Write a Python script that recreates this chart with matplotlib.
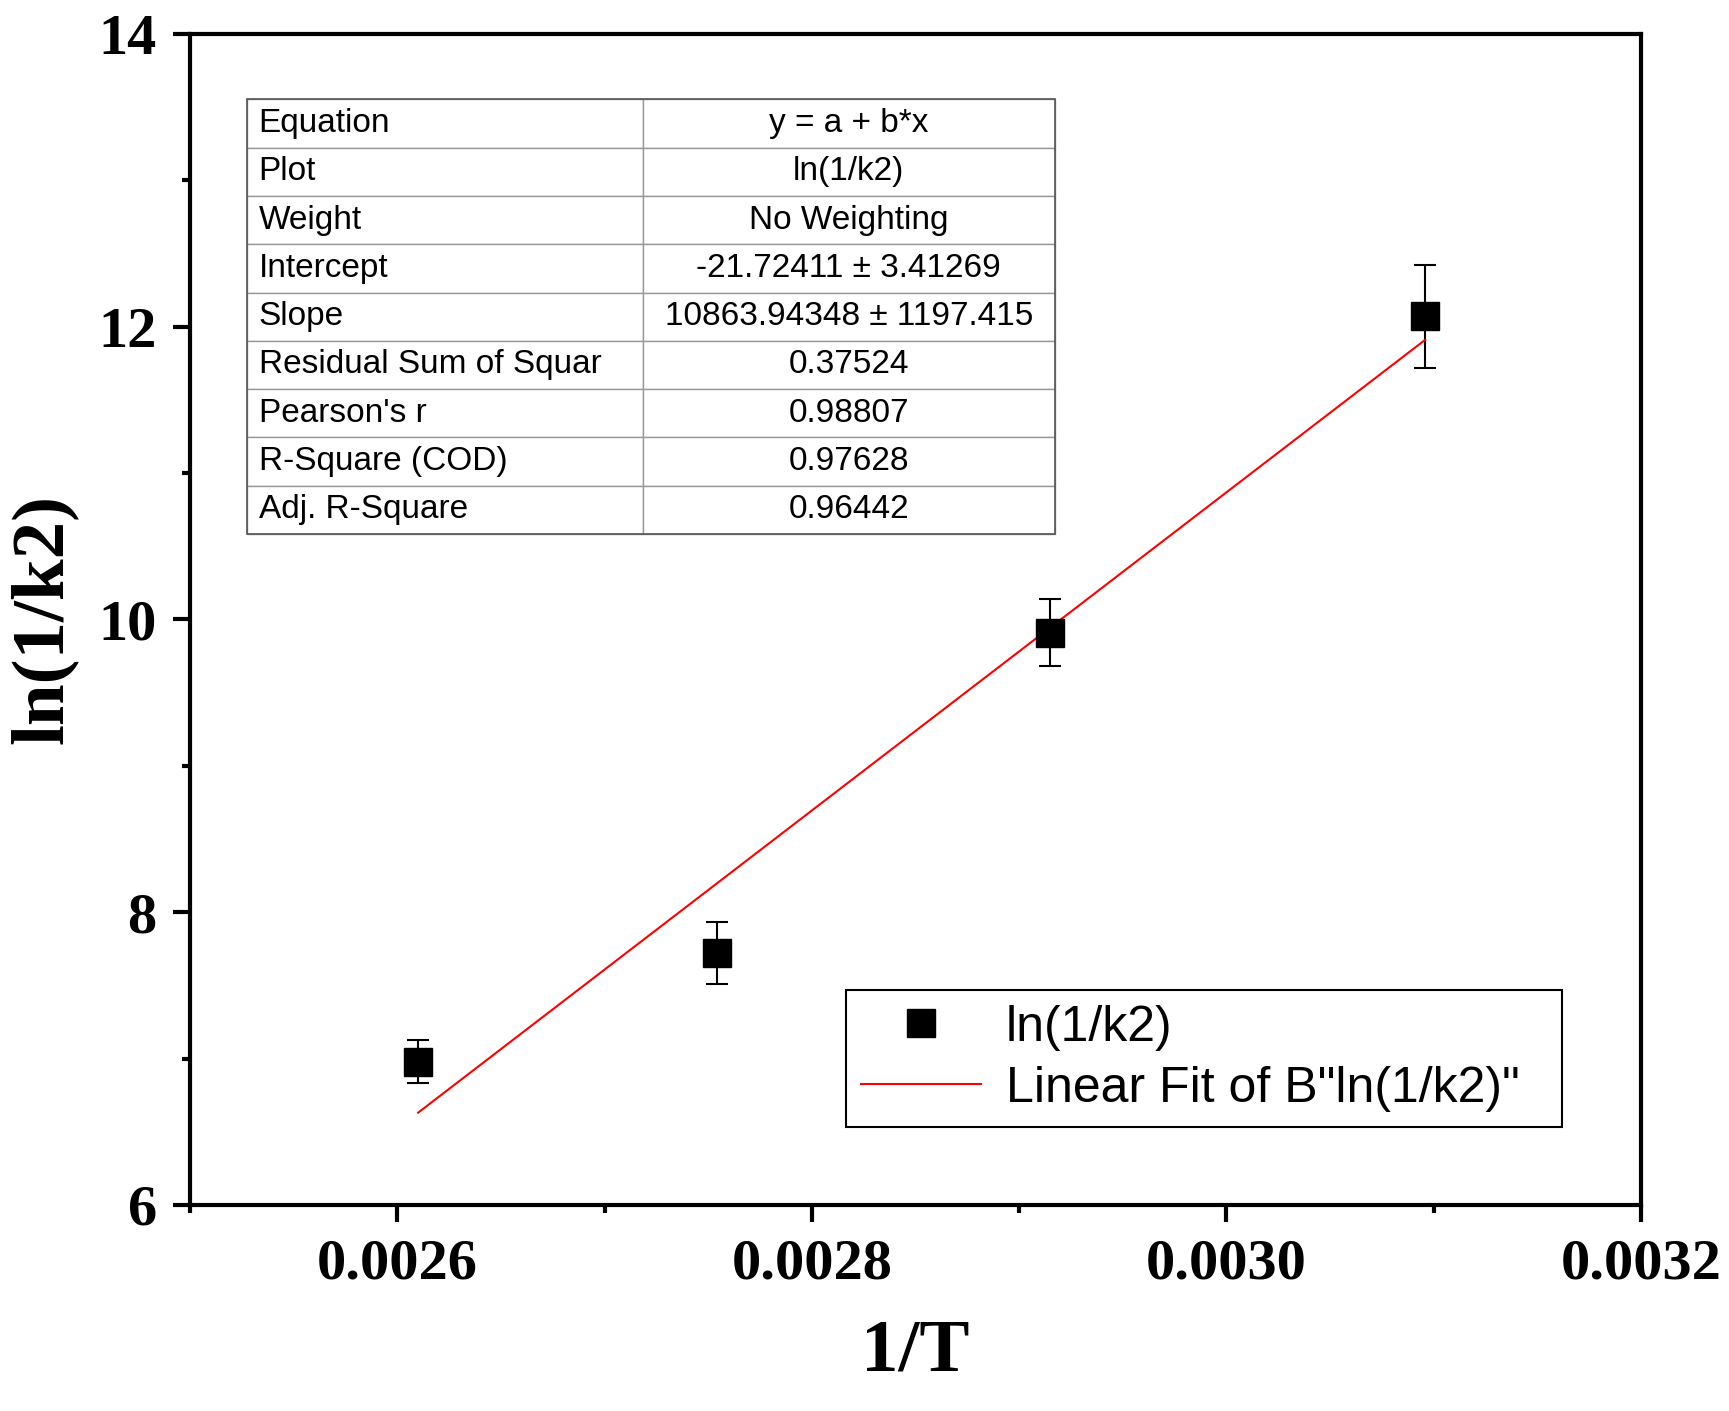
import matplotlib
matplotlib.use("Agg")
import matplotlib.pyplot as plt
from matplotlib.lines import Line2D
import numpy as np

x = [0.00261, 0.002754, 0.002915, 0.003096]
y = [6.98, 7.72, 9.91, 12.07]
yerr = [0.15, 0.21, 0.23, 0.35]
a, b = -21.72411, 10863.94348
labels = ["Equation", "Plot", "Weight", "Intercept", "Slope", "Residual Sum of Squar",
          "Pearson's r", "R-Square (COD)", "Adj. R-Square"]
values = ["y = a + b*x", "ln(1/k2)", "No Weighting", "-21.72411 ± 3.41269",
          "10863.94348 ± 1197.415", "0.37524", "0.98807", "0.97628", "0.96442"]

fig = plt.figure(figsize=(17.29, 14.11), dpi=100)
ax = fig.add_axes([0.110, 0.146, 0.839, 0.830])
ax.errorbar(x, y, yerr=yerr, fmt='s', color='black', ms=20, capsize=8, elinewidth=1.5,
            capthick=1.5)
xf = np.array([x[0], x[-1]])
ax.plot(xf, a + b * xf, color='red', lw=1.5)
ax.set_xlim(0.0025, 0.0032)
ax.set_ylim(6, 14)
ax.set_xticks([0.0026, 0.0028, 0.0030, 0.0032])
ax.set_xticklabels(["0.0026", "0.0028", "0.0030", "0.0032"])
ax.set_xticks(np.arange(0.0025, 0.00321, 0.0001), minor=True)
ax.set_yticks([6, 8, 10, 12, 14])
ax.set_yticks(np.arange(6, 14.1, 1), minor=True)
for s in ax.spines.values():
    s.set_linewidth(3)
ax.tick_params(which='major', length=12, width=3, labelsize=42, pad=12)
ax.tick_params(which='minor', length=6, width=3)
for t in ax.get_xticklabels() + ax.get_yticklabels():
    t.set_fontfamily('Liberation Serif'); t.set_fontweight('bold')
ax.set_xlabel('1/T', fontsize=54, fontweight='bold', family='Liberation Serif', labelpad=20)
ax.set_ylabel('ln(1/k2)', fontsize=54, fontweight='bold', family='Liberation Serif', labelpad=15)

tbl = ax.table(cellText=[[l, v] for l, v in zip(labels, values)],
               bbox=[0.039, 0.573, 0.557, 0.371], colWidths=[0.273, 0.284],
               cellLoc='center')
tbl.auto_set_font_size(False)
for (r, c), cell in tbl.get_celld().items():
    cell.set_edgecolor('#999999')
    cell.set_linewidth(1)
    cell.get_text().set_fontsize(24)
    cell.get_text().set_fontfamily('Liberation Sans')
    if c == 0:
        cell.get_text().set_ha('left')
        cell.PAD = 0.03
ax.add_patch(plt.Rectangle((0.039, 0.573), 0.557, 0.371, transform=ax.transAxes,
                           fill=False, ec='#555555', lw=1.2, zorder=5))

handles = [Line2D([], [], marker='s', color='black', ls='none', ms=20),
           Line2D([], [], color='red', lw=1.5)]
leg = ax.legend(handles, ['ln(1/k2)', 'Linear Fit of B"ln(1/k2)"'],
                loc='lower left', bbox_to_anchor=(0.452, 0.067, 0.494, 0.124), mode='expand',
                prop={'family': 'Liberation Sans', 'size': 36}, fancybox=False,
                edgecolor='black', handlelength=2.4, borderaxespad=0, framealpha=1,
                borderpad=0.3, labelspacing=0.3, handletextpad=0.5)
leg.get_frame().set_linewidth(1.5)
fig.savefig('out.png', dpi=100)
